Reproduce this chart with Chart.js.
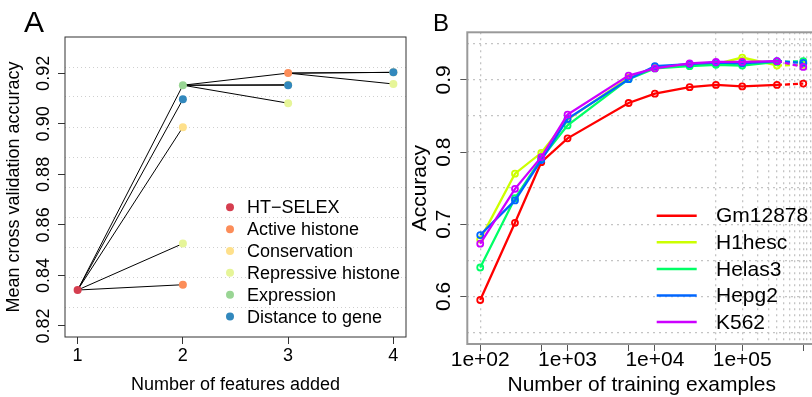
<!DOCTYPE html>
<html><head><meta charset="utf-8">
<script src="https://cdn.jsdelivr.net/npm/chart.js@4"></script>
<style>
html,body{margin:0;padding:0;background:#fff;overflow:hidden;width:812px;height:397px;position:relative;}
canvas{position:absolute;top:0;}
#ca{left:0;}
#cb{left:410px;}
</style></head><body>
<canvas id="ca" width="410" height="397"></canvas>
<canvas id="cb" width="412" height="397"></canvas>
<script>
// ---------- Panel A data ----------
const stepsA = [1, 2, 3, 4];
const featureNames = ["HT\u2212SELEX", "Active histone", "Conservation", "Repressive histone", "Expression", "Distance to gene"];
const featureColors = ["#D53E4F", "#FC8D59", "#FEE08B", "#E6F598", "#99D594", "#3288BD"];
const htSelex = [0.8342, null, null, null];
const activeHistone = [null, 0.8363, 0.9201, null];
const conservation = [null, 0.8987, 0.9155, 0.9204];
const repressiveHistone = [null, 0.8526, 0.9082, 0.9158];
const expression = [null, 0.9153, null, null];
const distanceToGene = [null, 0.9097, 0.9153, 0.9204];
const chosenPerStep = ["HT\u2212SELEX", "Expression", "Active histone"];
const xTicksA = [1, 2, 3, 4];
const yTicksA = [0.82, 0.84, 0.86, 0.88, 0.90, 0.92];
const yTickLabelsA = ["0.82", "0.84", "0.86", "0.88", "0.90", "0.92"];

// ---------- Panel B data ----------
const trainingSizes = [100, 250, 500, 1000, 5000, 10000, 25000, 50000, 100000, 250000, 500000];
const cellLines = ["Gm12878", "H1hesc", "Helas3", "Hepg2", "K562"];
const cellColors = ["#FF0000", "#CCFF00", "#00FF66", "#0066FF", "#CC00FF"];
const gm12878 = [0.595, 0.702, 0.786, 0.819, 0.868, 0.881, 0.890, 0.893, 0.891, 0.893, 0.895];
const h1hesc  = [0.679, 0.770, 0.799, 0.845, 0.903, 0.917, 0.921, 0.922, 0.931, 0.920, 0.921];
const helas3  = [0.640, 0.736, 0.791, 0.837, 0.901, 0.916, 0.919, 0.921, 0.920, 0.925, 0.926];
const hepg2   = [0.685, 0.733, 0.789, 0.846, 0.901, 0.919, 0.922, 0.924, 0.923, 0.926, 0.9235];
const k562    = [0.673, 0.749, 0.793, 0.852, 0.906, 0.916, 0.923, 0.925, 0.925, 0.926, 0.918];
const xTickValuesB = [100, 1000, 10000, 100000];
const xTickLabelsB = ["1e+02", "1e+03", "1e+04", "1e+05"];
const xMinorTicksB = [500, 5000, 50000, 500000];
const yTicksB = [0.6, 0.7, 0.8, 0.9];
const yTickLabelsB = ["0.6", "0.7", "0.8", "0.9"];
const xGridB = [100, 50000, 100000, 150000, 200000, 250000, 300000, 350000, 400000, 450000, 500000, 550000, 600000, 650000];
const yGridB = [0.55, 0.60, 0.65, 0.70, 0.75, 0.80, 0.85, 0.90, 0.95];

// ---------- common ----------
const FONT = '"Liberation Sans", Arial, Helvetica, sans-serif';
Chart.defaults.font.family = FONT;
Chart.defaults.color = '#000';

function boxPlugin(color, width) {
  return { id: 'box', afterDatasetsDraw(chart) {
    const { ctx, chartArea: a } = chart;
    ctx.save(); ctx.strokeStyle = color; ctx.lineWidth = width;
    ctx.strokeRect(a.left, a.top, a.right - a.left, a.bottom - a.top);
    ctx.restore();
  }};
}
function rotatedYTicks(x, size, values, labels) {
  return { id: 'rotYTicks', afterDraw(chart) {
    const s = chart.scales.y, ctx = chart.ctx;
    ctx.save(); ctx.font = size + 'px ' + FONT; ctx.fillStyle = '#000';
    ctx.textAlign = 'center'; ctx.textBaseline = 'middle';
    values.forEach((v, i) => {
      const py = s.getPixelForValue(v);
      ctx.save(); ctx.translate(x, py); ctx.rotate(-Math.PI / 2);
      ctx.fillText(labels[i], 0, 0); ctx.restore();
    });
    ctx.restore();
  }};
}
function panelLabel(text, x, y, size) {
  return { id: 'panelLabel', afterDraw(chart) {
    const ctx = chart.ctx; ctx.save();
    ctx.font = size + 'px ' + FONT; ctx.fillStyle = '#000';
    ctx.textAlign = 'left'; ctx.textBaseline = 'alphabetic';
    ctx.fillText(text, x, y); ctx.restore();
  }};
}
function legendDots(names, colors, x, y0, dy, size) {
  return { id: 'legendDots', afterDraw(chart) {
    const ctx = chart.ctx; ctx.save();
    ctx.font = size + 'px ' + FONT; ctx.textAlign = 'left'; ctx.textBaseline = 'middle';
    names.forEach((n, i) => {
      const y = y0 + i * dy;
      ctx.fillStyle = colors[i]; ctx.beginPath(); ctx.arc(x, y, 4, 0, Math.PI * 2); ctx.fill();
      ctx.fillStyle = '#000'; ctx.fillText(n, x + 17, y + 1);
    });
    ctx.restore();
  }};
}
function legendLines(names, colors, x1, x2, tx, y0, dy, size) {
  return { id: 'legendLines', afterDraw(chart) {
    const ctx = chart.ctx; ctx.save();
    ctx.font = size + 'px ' + FONT; ctx.textAlign = 'left'; ctx.textBaseline = 'middle';
    names.forEach((n, i) => {
      const y = y0 + i * dy;
      ctx.strokeStyle = colors[i]; ctx.lineWidth = 2.5;
      ctx.beginPath(); ctx.moveTo(x1, y); ctx.lineTo(x2, y); ctx.stroke();
      ctx.fillStyle = '#000'; ctx.fillText(n, tx, y + 1);
    });
    ctx.restore();
  }};
}

// ---------- Panel A ----------
const seriesA = [htSelex, activeHistone, conservation, repressiveHistone, expression, distanceToGene];
const datasetsA = [];
for (let s = 0; s < chosenPerStep.length; s++) {
  const pi = featureNames.indexOf(chosenPerStep[s]);
  const px = stepsA[s], py = seriesA[pi][s];
  seriesA.forEach(vals => {
    const v = vals[s + 1];
    if (v !== null) {
      datasetsA.push({ data: [{ x: px, y: py }, { x: stepsA[s + 1], y: v }], showLine: true,
        borderColor: '#000', borderWidth: 1, pointRadius: 0, order: 10 });
    }
  });
}
seriesA.forEach((vals, fi) => {
  const pts = [];
  vals.forEach((v, i) => { if (v !== null) pts.push({ x: stepsA[i], y: v }); });
  datasetsA.push({ label: featureNames[fi], data: pts, showLine: false,
    pointRadius: 4, pointBorderWidth: 0, backgroundColor: featureColors[fi], borderColor: featureColors[fi], order: -fi });
});

const yMinA = 0.8156, yMaxA = 0.9344;
const yGridA = [];
for (let k = 1; k < 10; k++) yGridA.push(yMinA + k * (yMaxA - yMinA) / 10);

new Chart(document.getElementById('ca'), {
  type: 'scatter',
  data: { datasets: datasetsA },
  options: {
    responsive: false, animation: false, events: [],
    layout: { padding: { left: 0, top: 37, right: 2, bottom: 0 } },
    plugins: { legend: { display: false }, tooltip: { enabled: false } },
    scales: {
      x: { type: 'linear', min: 0.88, max: 4.12, bounds: 'data', position: 'bottom',
        afterBuildTicks: s => { s.ticks = xTicksA.map(v => ({ value: v })); },
        ticks: { font: { size: 18, lineHeight: 1 }, color: '#000', padding: 3, autoSkip: false, maxRotation: 0, callback: v => String(v) },
        grid: { drawOnChartArea: false, drawTicks: true, tickLength: 7, color: '#333' },
        border: { display: false },
        title: { display: true, text: 'Number of features added', font: { size: 18, lineHeight: 1 }, color: '#000', padding: { top: 0, bottom: 2.5 } },
        afterFit: s => { s.height = 60; } },
      y: { type: 'linear', min: yMinA, max: yMaxA, bounds: 'data', position: 'left',
        afterBuildTicks: s => { s.ticks = yTicksA.map(v => ({ value: v })); },
        ticks: { display: false },
        grid: { drawOnChartArea: false, drawTicks: true, tickLength: 7, color: '#333' },
        border: { display: false },
        title: { display: true, text: 'Mean cross validation accuracy', font: { size: 18, lineHeight: 1 }, color: '#000', padding: { top: 5, bottom: 0 } },
        afterFit: s => { s.width = 65; } },
      yg: { type: 'linear', min: yMinA, max: yMaxA, bounds: 'data', position: 'left',
        afterBuildTicks: s => { s.ticks = yGridA.map(v => ({ value: v })); },
        ticks: { display: false },
        grid: { drawOnChartArea: true, drawTicks: false, color: '#CFCFCF', lineWidth: 1 },
        border: { display: false, dash: [1, 3] },
        afterFit: s => { s.width = 0; } }
    }
  },
  plugins: [boxPlugin('#333', 1), rotatedYTicks(44, 18, yTicksA, yTickLabelsA),
            panelLabel('A', 24, 31.5, 30), legendDots(featureNames, featureColors, 230, 207.3, 21.85, 18)]
});

// ---------- Panel B ----------
const seriesB = [gm12878, h1hesc, helas3, hepg2, k562];
const datasetsB = seriesB.map((vals, i) => ({
  label: cellLines[i],
  data: trainingSizes.map((x, j) => ({ x: x, y: vals[j] })),
  showLine: true, borderColor: cellColors[i], borderWidth: 2.3,
  pointRadius: 3, pointBorderWidth: 1.8, pointBackgroundColor: 'rgba(255,255,255,0)', pointBorderColor: cellColors[i],
  segment: { borderDash: ctx => ctx.p0DataIndex === trainingSizes.length - 2 ? [5, 3] : undefined },
  order: seriesB.length - i
}));

const xMinB = Math.pow(10, 1.852), xMaxB = Math.pow(10, 5.847);
const yMinB = 0.534, yMaxB = 0.966;

new Chart(document.getElementById('cb'), {
  type: 'scatter',
  data: { datasets: datasetsB },
  options: {
    responsive: false, animation: false, events: [],
    layout: { padding: { left: 0, top: 32.3, right: 4.6, bottom: 0 } },
    plugins: { legend: { display: false }, tooltip: { enabled: false } },
    scales: {
      x: { type: 'logarithmic', min: xMinB, max: xMaxB, bounds: 'data', position: 'bottom',
        afterBuildTicks: s => { s.ticks = xTickValuesB.concat(xMinorTicksB).sort((a, b) => a - b).map(v => ({ value: v })); },
        ticks: { font: { size: 21, lineHeight: 1 }, color: '#000', padding: -1, autoSkip: false, maxRotation: 0, major: { enabled: false },
          callback: v => { const i = xTickValuesB.indexOf(v); return i >= 0 ? xTickLabelsB[i] : ''; } },
        grid: { drawOnChartArea: false, drawTicks: true, tickLength: 7, color: '#555' },
        border: { display: false },
        title: { display: true, text: 'Number of training examples', font: { size: 21, lineHeight: 1 }, color: '#000', padding: { top: 0, bottom: 1 } },
        afterFit: s => { s.height = 53; } },
      xg: { type: 'logarithmic', min: xMinB, max: xMaxB, bounds: 'data', position: 'bottom',
        afterBuildTicks: s => { s.ticks = xGridB.map(v => ({ value: v })); },
        ticks: { display: false },
        grid: { drawOnChartArea: true, drawTicks: false, color: '#C4C4C4', lineWidth: 1.3 },
        border: { display: false, dash: [2, 4] },
        afterFit: s => { s.height = 0; } },
      y: { type: 'linear', min: yMinB, max: yMaxB, bounds: 'data', position: 'left',
        afterBuildTicks: s => { s.ticks = yTicksB.map(v => ({ value: v })); },
        ticks: { display: false },
        grid: { drawOnChartArea: false, drawTicks: true, tickLength: 7, color: '#555' },
        border: { display: false },
        title: { display: true, text: 'Accuracy', font: { size: 21, lineHeight: 1 }, color: '#000', padding: { top: 0, bottom: 0 } },
        afterFit: s => { s.width = 57.3; } },
      yg: { type: 'linear', min: yMinB, max: yMaxB, bounds: 'data', position: 'left',
        afterBuildTicks: s => { s.ticks = yGridB.map(v => ({ value: v })); },
        ticks: { display: false },
        grid: { drawOnChartArea: true, drawTicks: false, color: '#C4C4C4', lineWidth: 1.3 },
        border: { display: false, dash: [2, 4] },
        afterFit: s => { s.width = 0; } }
    }
  },
  plugins: [boxPlugin('#999', 2), rotatedYTicks(34, 21, yTicksB, yTickLabelsB),
            panelLabel('B', 23, 30.7, 24), legendLines(cellLines, cellColors, 246.7, 286.7, 306, 215.7, 26.6, 21)]
});
</script>
</body></html>
